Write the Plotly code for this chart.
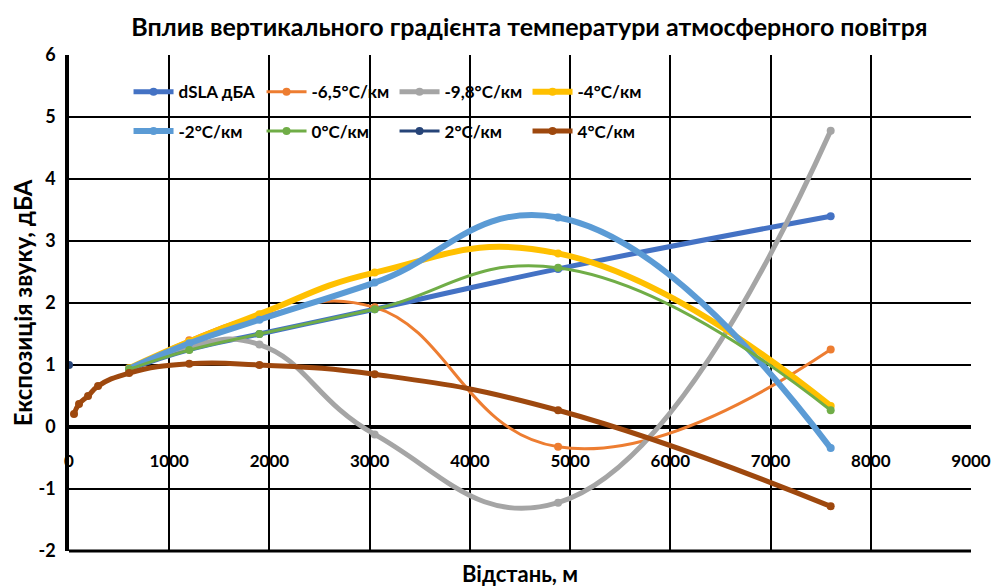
import plotly.graph_objects as go

# ---- data ----
x_main = [600, 1200, 1900, 3050, 4880, 7600]
dsla = [0.93, 1.25, 1.50, 1.90, 2.55, 3.40]
g_m65 = [0.93, 1.40, 1.78, 1.93, -0.32, 1.25]
g_m98 = [0.93, 1.30, 1.33, -0.12, -1.22, 4.78]
g_m4 = [0.95, 1.38, 1.82, 2.49, 2.80, 0.34]
g_m2 = [0.94, 1.35, 1.73, 2.33, 3.38, -0.34]
g_0 = [0.93, 1.24, 1.50, 1.90, 2.57, 0.27]
x_2 = [0]
g_2 = [1.0]
x_4 = [50, 100, 190, 290, 600, 1200, 1900, 3050, 4880, 7600]
g_4 = [0.21, 0.37, 0.50, 0.66, 0.87, 1.02, 1.00, 0.85, 0.27, -1.28]

names = ["dSLA дБА", "-6,5°C/км", "-9,8°C/км", "-4°C/км",
         "-2°C/км", "0°C/км", "2°C/км", "4°C/км"]
colors = ["#4472C4", "#ED7D31", "#A5A5A5", "#FFC000",
          "#5B9BD5", "#70AD47", "#264478", "#9E480E"]

y_ticks = [-2, -1, 0, 1, 2, 3, 4, 5, 6]
y_tick_labels = ["-2", "-1", "0", "1", "2", "3", "4", "5", "6"]
x_ticks = [0, 1000, 2000, 3000, 4000, 5000, 6000, 7000, 8000, 9000]

FONT = "Lato"

fig = go.Figure()
series = [
    (x_main, dsla, 5),
    (x_main, g_m65, 3),
    (x_main, g_m98, 5),
    (x_main, g_m4, 6),
    (x_main, g_m2, 6),
    (x_main, g_0, 3),
    (x_2, g_2, 3),
    (x_4, g_4, 5),
]
for i, ((xs, ys, w), n, c) in enumerate(zip(series, names, colors)):
    fig.add_trace(go.Scatter(
        x=xs, y=ys, name=f"<b>{n}</b>", mode="lines+markers",
        line=dict(color=c, width=w, shape="spline", smoothing=1.3),
        marker=dict(color=c, size=8),
        legend="legend" if i < 4 else "legend2",
    ))

leg_common = dict(orientation="h", xanchor="left", yanchor="middle",
                  bgcolor="rgba(0,0,0,0)", entrywidth=78, entrywidthmode="pixels",
                  font=dict(family=FONT, size=17, color="black"),
                  itemwidth=40)

# page body has an 8px margin: figure sized/offset to compensate
W, H = 995, 578
fig.update_layout(
    width=W, height=H,
    margin=dict(l=60, r=26, t=47, b=35),
    paper_bgcolor="white", plot_bgcolor="white",
    font=dict(family=FONT, size=16, color="black"),
    title=dict(text="<b>Вплив вертикального градієнта температури атмосферного повітря</b>",
               x=0.524, xanchor="center", y=0.967, yanchor="middle",
               font=dict(family=FONT, size=25, color="black")),
    showlegend=True,
    legend=dict(x=0.066, y=0.925, **leg_common),
    legend2=dict(x=0.066, y=0.846, **leg_common),
    xaxis=dict(range=[0, 9000], tickvals=x_ticks,
               ticktext=[f"<b>{v}</b>" for v in x_ticks], showgrid=True,
               gridcolor="black", gridwidth=1.5, zeroline=False,
               anchor="free", position=0.25, showline=False,
               ticks="", tickfont=dict(family=FONT, size=17, color="black"),
               ticklabelstandoff=22),
    yaxis=dict(range=[-2, 6], tickvals=y_ticks,
               ticktext=[f"<b>{t}</b>" for t in y_tick_labels],
               showgrid=True, gridcolor="black",
               gridwidth=1.5, zeroline=True, zerolinecolor="black",
               zerolinewidth=3.5, showline=True, linecolor="black",
               linewidth=3.5, ticks="", ticklabelstandoff=6,
               tickfont=dict(family=FONT, size=18, color="black"),
               title=dict(text="<b>Експозиція звуку, дБА</b>", standoff=2,
                          font=dict(family=FONT, size=24, color="black"))),
)
fig.add_annotation(text="<b>Відстань, м</b>", xref="paper", yref="paper",
                   x=0.5, y=-0.046, yanchor="middle", showarrow=False,
                   font=dict(family=FONT, size=22, color="black"))
# bottom border line
fig.add_shape(type="line", xref="paper", yref="paper", x0=0, x1=1, y0=0, y1=0,
              line=dict(color="black", width=3))

fig.write_html("out.html")
